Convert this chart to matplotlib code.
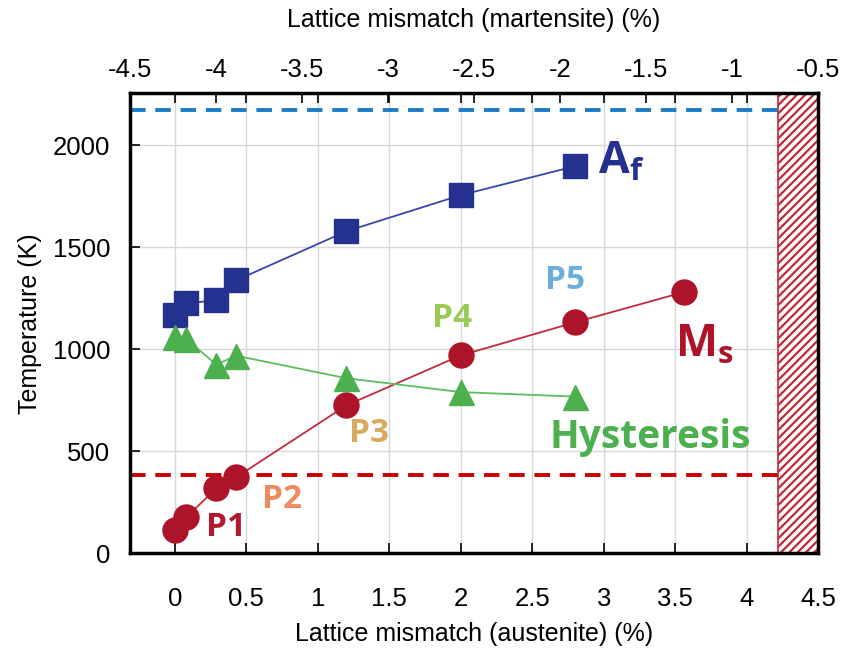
import matplotlib.pyplot as plt

# data
mismatch = [0.0, 0.08, 0.29, 0.43, 1.2, 2.0, 2.8]
af = [1167, 1225, 1240, 1338, 1578, 1755, 1897]
hyst = [1060, 1050, 925, 968, 858, 790, 768]
ms_x = [0.0, 0.08, 0.29, 0.43, 1.2, 2.0, 2.8, 3.56]
ms = [113, 176, 319, 373, 725, 970, 1132, 1280]

upper_limit = 2172
lower_limit = 385
forbidden = [4.22, 4.5]

top_ticks = [-4.5, -4, -3.5, -3, -2.5, -2, -1.5, -1, -0.5]
bottom_ticks = [0, 0.5, 1, 1.5, 2, 2.5, 3, 3.5, 4, 4.5]
y_ticks = [0, 500, 1000, 1500, 2000]

phases = ['P1', 'P2', 'P3', 'P4', 'P5']
phase_pos = [(0.36, 127), (0.75, 262), (1.36, 588), (1.94, 1152), (2.73, 1338)]
phase_col = ['#B3182E', '#F08A5D', '#D8AA60', '#9BCB55', '#6AAFD9']

XMIN = -0.315
XMAX = 4.5
SLOPE = 4.0 / (XMAX - XMIN)


def toTop(b):
  return -4.5 + SLOPE * (b - XMIN)


def toBottom(t):
  return XMIN + (t + 4.5) / SLOPE


def main():
  plt.rcParams['font.family'] = ['Liberation Sans', 'DejaVu Sans']
  plt.rcParams['hatch.linewidth'] = 1.6
  fig = plt.figure(figsize=(8.48, 6.51), dpi=100)
  ax = fig.add_axes([0.153, 0.150, 0.812, 0.707])

  ax.set_xlim(XMIN, XMAX)
  ax.set_ylim(0, 2255)
  ax.grid(True, color='#d8d8d8', lw=1)
  ax.set_axisbelow(True)

  ax.axvspan(forbidden[0], forbidden[1], facecolor='white', edgecolor='#C0283A',
             hatch='////', lw=1.2, zorder=1)
  ax.hlines(upper_limit, XMIN, forbidden[0], colors='#1B7BC6', linestyles=(0, (4, 2.5)), lw=2.8, zorder=2)
  ax.hlines(lower_limit, XMIN, forbidden[0], colors='#C80000', linestyles=(0, (4, 2.5)), lw=2.8, zorder=2)

  ax.plot(mismatch, af, '-s', color='#3A47AA', mfc='#25318F', mec='#25318F', ms=17, lw=1.3, zorder=3)
  ax.plot(ms_x, ms, '-o', color='#C42A3D', mfc='#AE1429', mec='#AE1429', ms=18, lw=1.3, zorder=3)
  ax.plot(mismatch, hyst, '-^', color='#5BBF5B', mfc='#4DB04F', mec='#4DB04F', ms=18, lw=1.3, zorder=3)

  bold = ['Open Sans', 'DejaVu Sans']
  ax.text(2.96, 1915, r'A$_\mathregular{f}$', color='#25318F', fontsize=32, fontweight='bold',
          family=bold, va='center', ha='left')
  ax.text(3.5, 1020, r'M$_\mathregular{s}$', color='#AE1429', fontsize=32, fontweight='bold',
          family=bold, va='center', ha='left')
  ax.text(2.62, 569, 'Hysteresis', color='#4DB04F', fontsize=28, fontweight='bold',
          family=bold, va='center', ha='left')
  for name, (px, py), c in zip(phases, phase_pos, phase_col):
    ax.text(px, py, name, color=c, fontsize=24, fontweight='bold', family=bold,
            va='center', ha='center')

  ax.set_xticks(bottom_ticks)
  ax.set_xticklabels([f'{t:g}' for t in bottom_ticks])
  ax.set_yticks(y_ticks)
  ax.tick_params(axis='both', direction='in', length=7, width=1.2, labelsize=18.5)
  ax.tick_params(axis='x', top=True, pad=24)
  ax.tick_params(axis='y', pad=14)
  for s in ax.spines.values():
    s.set_linewidth(2.5)

  top = ax.secondary_xaxis('top', functions=(toTop, toBottom))
  top.set_xticks(top_ticks)
  top.set_xticklabels([f'{t:g}' for t in top_ticks])
  top.tick_params(direction='in', length=7, width=1.2, labelsize=18.5, pad=8)
  top.set_xlabel('Lattice mismatch (martensite) (%)', fontsize=18, labelpad=22)

  ax.set_xlabel('Lattice mismatch (austenite) (%)', fontsize=18, labelpad=8)
  ax.set_ylabel('Temperature (K)', fontsize=18, labelpad=8)

  fig.savefig('out.png', dpi=100)


if __name__ == "__main__":
  main()
